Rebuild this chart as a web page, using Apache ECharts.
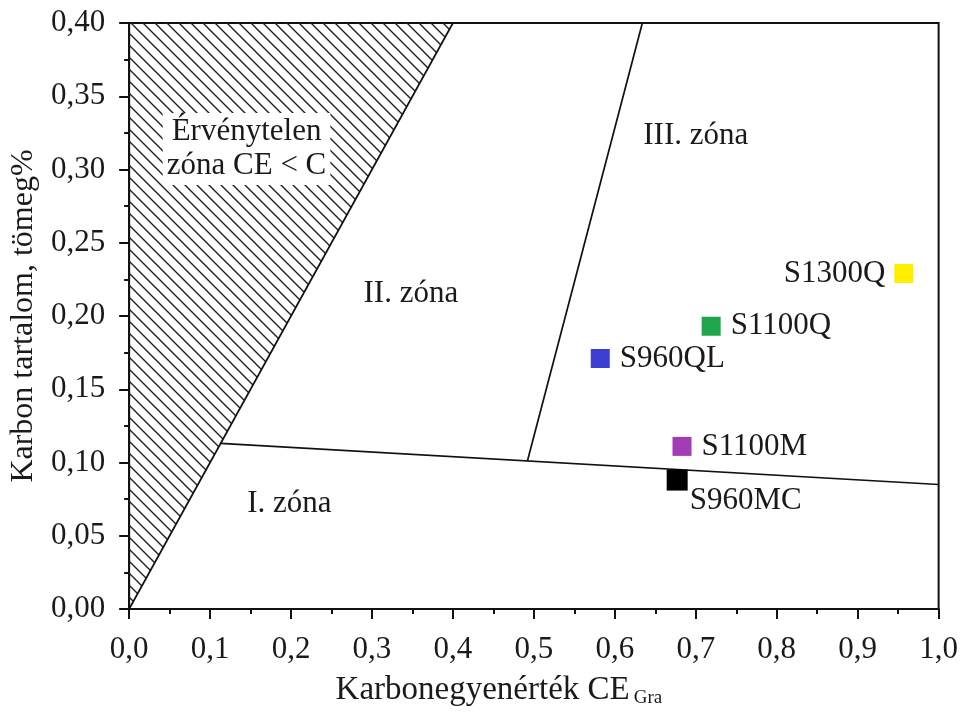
<!DOCTYPE html>
<html>
<head>
<meta charset="utf-8">
<script src="https://cdn.jsdelivr.net/npm/echarts@6/dist/echarts.min.js"></script>
<style>html,body{margin:0;padding:0;background:#fff}#c{width:961px;height:713px}</style>
</head>
<body>
<div id="c"></div>
<script>
// ---- data ----
var xTicks = ['0,0','0,1','0,2','0,3','0,4','0,5','0,6','0,7','0,8','0,9','1,0'];
var invalidZone = [[0, 0], [0.4, 0.4], [0, 0.4]];
var lineCEeqC = [[0, 0], [0.4, 0.4]];
var lineZoneI = [[0.113, 0.113], [1.0, 0.085]];
var lineZoneIII = [[0.492, 0.101], [0.634, 0.4]];
var steelNames = ['S1300Q', 'S1100Q', 'S960QL', 'S1100M', 'S960MC'];
var steelCE = [0.957, 0.719, 0.582, 0.683, 0.677];
var steelC = [0.229, 0.193, 0.171, 0.111, 0.088];
var steelColors = ['#ffee00', '#1fa64a', '#3b3fd2', '#a23cb4', '#000000'];
var zoneNames = ['Érvénytelen\nzóna CE < C', 'I. zóna', 'II. zóna', 'III. zóna'];
var zoneX = [0.145, 0.198, 0.348, 0.700];
var zoneY = [0.314, 0.072, 0.215, 0.323];

var FONT = "'Liberation Serif', 'Times New Roman', serif";
var TXT = '#1a1a1a';

// hatch pattern
var pc = document.createElement('canvas');
var S = 12;
pc.width = S; pc.height = S;
var g = pc.getContext('2d');
g.strokeStyle = '#222';
g.lineWidth = 1.4;
g.beginPath();
g.moveTo(-S, -S); g.lineTo(2 * S, 2 * S);
g.moveTo(-S, 0); g.lineTo(S, 2 * S);
g.moveTo(0, -S); g.lineTo(2 * S, S);
g.stroke();

var chart = echarts.init(document.getElementById('c'), null, {renderer: 'canvas'});

function lineSeries(d) {
  return {type: 'line', data: d, symbol: 'none', silent: true, z: 4,
    lineStyle: {color: '#111', width: 1.7}};
}

var series = [
  {
    type: 'custom', data: invalidZone, z: 1, silent: true,
    renderItem: function (params, api) {
      if (params.dataIndex !== 0) return null;
      var pts = invalidZone.map(function (p) { return api.coord(p); });
      return {type: 'polygon', shape: {points: pts},
        style: {fill: {image: pc, repeat: 'repeat'}, stroke: null}};
    }
  },
  lineSeries(lineCEeqC),
  lineSeries(lineZoneI),
  lineSeries(lineZoneIII),
  {
    type: 'scatter', z: 5, silent: true,
    itemStyle: {opacity: 1},
    data: zoneNames.map(function (n, i) {
      return {value: [zoneX[i], zoneY[i]], name: n,
        label: i === 0 ? {backgroundColor: '#fff', padding: [2, 4], lineHeight: 34} : {}};
    }),
    symbolSize: 0,
    label: {show: true, position: 'inside', formatter: '{b}', color: TXT, opacity: 1,
      fontFamily: FONT, fontSize: 31, align: 'center', verticalAlign: 'middle'}
  },
  {
    type: 'scatter', z: 6, silent: true, symbol: 'rect',
    itemStyle: {opacity: 1},
    data: steelNames.map(function (n, i) {
      var lab;
      if (i === 0) lab = {position: 'left', distance: 9};
      else if (i === 4) lab = {position: [23, 16], align: 'left', verticalAlign: 'top'};
      else lab = {position: 'right', distance: 10};
      return {value: [steelCE[i], steelC[i]], name: n,
        symbolSize: i === 4 ? 21 : 19,
        itemStyle: {color: steelColors[i], opacity: 1}, label: lab};
    }),
    label: {show: true, formatter: '{b}', color: TXT, opacity: 1, fontFamily: FONT, fontSize: 31}
  }
];

chart.setOption({
  animation: false,
  backgroundColor: '#fff',
  grid: {left: 128, right: 22, top: 23, bottom: 101, show: true,
    borderColor: '#111', borderWidth: 2, backgroundColor: 'transparent'},
  xAxis: {
    type: 'value', min: 0, max: 1, interval: 0.1,
    name: '{a|Karbonegyenérték CE}{s|Gra}', nameLocation: 'middle', nameGap: 64,
    nameTextStyle: {padding: [0, 70, 0, 0], rich: {
      a: {fontFamily: FONT, fontSize: 33, color: TXT},
      s: {fontFamily: FONT, fontSize: 19, color: TXT, verticalAlign: 'bottom', padding: [16, 0, 0, 4]}
    }},
    axisLine: {show: true, lineStyle: {color: '#111', width: 2}},
    axisTick: {show: true, inside: false, length: 10, lineStyle: {color: '#111', width: 2}},
    minorTick: {show: true, splitNumber: 2, length: 5, lineStyle: {color: '#111', width: 2}},
    splitLine: {show: false},
    axisLabel: {margin: 25, color: TXT, fontFamily: FONT, fontSize: 31,
      formatter: function (v) { return xTicks[Math.round(v * 10)]; }}
  },
  yAxis: {
    type: 'value', min: 0, max: 0.4, interval: 0.05,
    name: 'Karbon tartalom, tömeg%', nameLocation: 'middle', nameGap: 86,
    nameTextStyle: {fontFamily: FONT, fontSize: 32, color: TXT},
    axisLine: {show: true, lineStyle: {color: '#111', width: 2}},
    axisTick: {show: true, inside: false, length: 10, lineStyle: {color: '#111', width: 2}},
    minorTick: {show: true, splitNumber: 2, length: 5, lineStyle: {color: '#111', width: 2}},
    splitLine: {show: false},
    axisLabel: {margin: 24, color: TXT, fontFamily: FONT, fontSize: 31,
      formatter: function (v) { return v.toFixed(2).replace('.', ','); }}
  },
  series: series
});
</script>
</body>
</html>
